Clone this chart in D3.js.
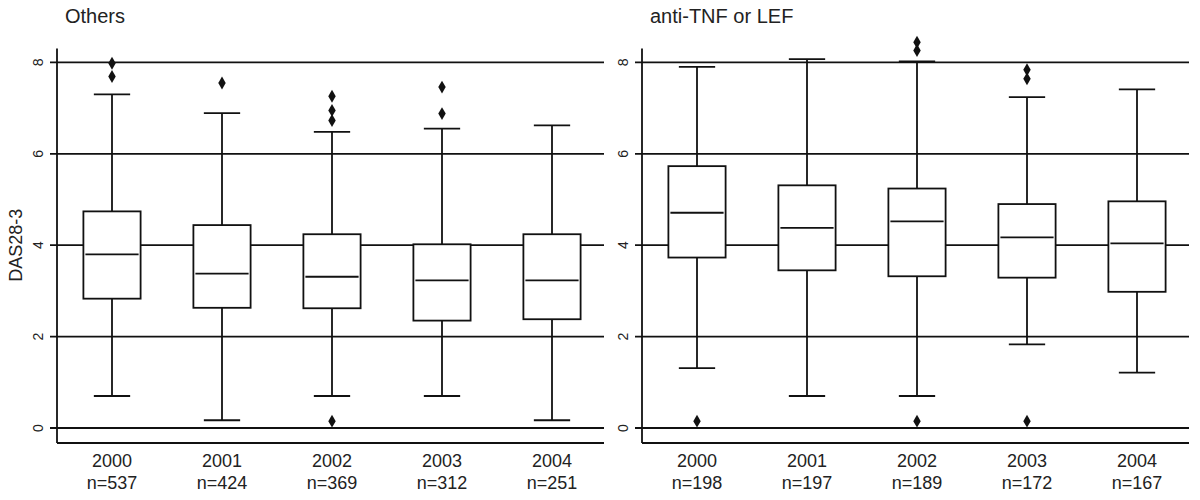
<!DOCTYPE html>
<html>
<head>
<meta charset="utf-8">
<script src="https://cdn.jsdelivr.net/npm/d3@7"></script>
<style>
  body { margin: 0; background: #fff; }
  svg { font-family: "Liberation Sans", Arial, sans-serif; }
</style>
</head>
<body>
<div class="chart"></div>
<script>
var years = ["2000", "2001", "2002", "2003", "2004"];
var yTicks = [0, 2, 4, 6, 8];

// Others
var othersN = [537, 424, 369, 312, 251];
var othersLow = [0.70, 0.17, 0.70, 0.70, 0.17];
var othersQ1 = [2.83, 2.63, 2.62, 2.35, 2.38];
var othersMed = [3.80, 3.38, 3.31, 3.23, 3.23];
var othersQ3 = [4.74, 4.44, 4.24, 4.02, 4.24];
var othersHigh = [7.30, 6.89, 6.48, 6.55, 6.62];
var othersOut = [[7.98, 7.69], [7.55], [7.26, 6.95, 6.73, 0.15], [7.46, 6.88], []];

// anti-TNF or LEF
var antiN = [198, 197, 189, 172, 167];
var antiLow = [1.31, 0.70, 0.70, 1.83, 1.21];
var antiQ1 = [3.73, 3.45, 3.32, 3.29, 2.98];
var antiMed = [4.71, 4.38, 4.52, 4.17, 4.04];
var antiQ3 = [5.73, 5.31, 5.24, 4.90, 4.96];
var antiHigh = [7.90, 8.07, 8.02, 7.24, 7.41];
var antiOut = [[0.15], [], [8.44, 8.26, 0.15], [7.84, 7.64, 0.15], []];

var width = 1200, height = 500;
var ink = "#111";
var textCol = "#222";

var svg = d3.select(".chart").append("svg")
    .attr("width", width)
    .attr("height", height);

var y = d3.scaleLinear().domain([0, 8]).range([428, 62.4]);

function panel(title, left, right, n, low, q1, med, q3, high, outs) {
  var x = d3.scaleBand().domain(years).range([left, right]);
  var g = svg.append("g");
  var bw = x.bandwidth();
  var gridEnd = right - 3;

  // title
  g.append("text")
      .attr("x", left + 8)
      .attr("y", 23)
      .style("font-size", "20px")
      .attr("fill", textCol)
      .text(title);

  // grid lines (ticks poke left of the axis)
  g.selectAll(".grid")
      .data(yTicks)
      .enter().append("line")
      .attr("x1", left - 7)
      .attr("x2", gridEnd)
      .attr("y1", function(d) { return y(d); })
      .attr("y2", function(d) { return y(d); })
      .attr("stroke", ink)
      .attr("stroke-width", 1.8);

  // tick labels, rotated like R
  g.selectAll(".tl")
      .data(yTicks)
      .enter().append("text")
      .attr("transform", function(d) { return "translate(" + (left - 14) + "," + y(d) + ") rotate(-90)"; })
      .attr("text-anchor", "middle")
      .style("font-size", "14px")
      .attr("fill", textCol)
      .text(function(d) { return d; });

  // axis frame
  g.append("line")
      .attr("x1", left).attr("x2", left)
      .attr("y1", y(8) - 14).attr("y2", y(0) + 15)
      .attr("stroke", ink).attr("stroke-width", 1.8);
  g.append("line")
      .attr("x1", left).attr("x2", gridEnd)
      .attr("y1", y(0) + 15).attr("y2", y(0) + 15)
      .attr("stroke", ink).attr("stroke-width", 1.8);

  // boxes
  var box = g.selectAll(".box")
      .data(years)
      .enter().append("g")
      .attr("transform", function(d) { return "translate(" + (x(d) + bw / 2) + ",0)"; });

  var half = bw * 0.26, cap = bw * 0.165;

  box.append("line")
      .attr("x1", 0).attr("x2", 0)
      .attr("y1", function(d, i) { return y(high[i]); })
      .attr("y2", function(d, i) { return y(low[i]); })
      .attr("stroke", ink).attr("stroke-width", 1.8);
  box.append("line")
      .attr("x1", -cap).attr("x2", cap)
      .attr("y1", function(d, i) { return y(high[i]); })
      .attr("y2", function(d, i) { return y(high[i]); })
      .attr("stroke", ink).attr("stroke-width", 1.8);
  box.append("line")
      .attr("x1", -cap).attr("x2", cap)
      .attr("y1", function(d, i) { return y(low[i]); })
      .attr("y2", function(d, i) { return y(low[i]); })
      .attr("stroke", ink).attr("stroke-width", 1.8);
  box.append("rect")
      .attr("x", -half)
      .attr("width", half * 2)
      .attr("y", function(d, i) { return y(q3[i]); })
      .attr("height", function(d, i) { return y(q1[i]) - y(q3[i]); })
      .attr("fill", "#fff")
      .attr("stroke", ink).attr("stroke-width", 1.8);
  box.append("line")
      .attr("x1", -half + 2).attr("x2", half - 2)
      .attr("y1", function(d, i) { return y(med[i]); })
      .attr("y2", function(d, i) { return y(med[i]); })
      .attr("stroke", ink).attr("stroke-width", 1.8);

  // outliers
  box.selectAll(".out")
      .data(function(d, i) { return outs[i]; })
      .enter().append("path")
      .attr("d", d3.symbol().type(d3.symbolDiamond).size(48))
      .attr("transform", function(v) { return "translate(0," + y(v) + ")"; })
      .attr("fill", ink);

  // x labels
  box.append("text")
      .attr("y", 467)
      .attr("text-anchor", "middle")
      .style("font-size", "18px")
      .attr("fill", textCol)
      .text(function(d) { return d; });
  box.append("text")
      .attr("y", 489)
      .attr("text-anchor", "middle")
      .style("font-size", "18px")
      .attr("fill", textCol)
      .text(function(d, i) { return "n=" + n[i]; });
}

panel("Others", 57, 607, othersN, othersLow, othersQ1, othersMed, othersQ3, othersHigh, othersOut);
panel("anti-TNF or LEF", 642, 1192, antiN, antiLow, antiQ1, antiMed, antiQ3, antiHigh, antiOut);

// y axis title
svg.append("text")
    .attr("transform", "translate(22," + y(4) + ") rotate(-90)")
    .attr("text-anchor", "middle")
    .style("font-size", "18px")
    .attr("fill", textCol)
    .text("DAS28-3");
</script>
</body>
</html>
